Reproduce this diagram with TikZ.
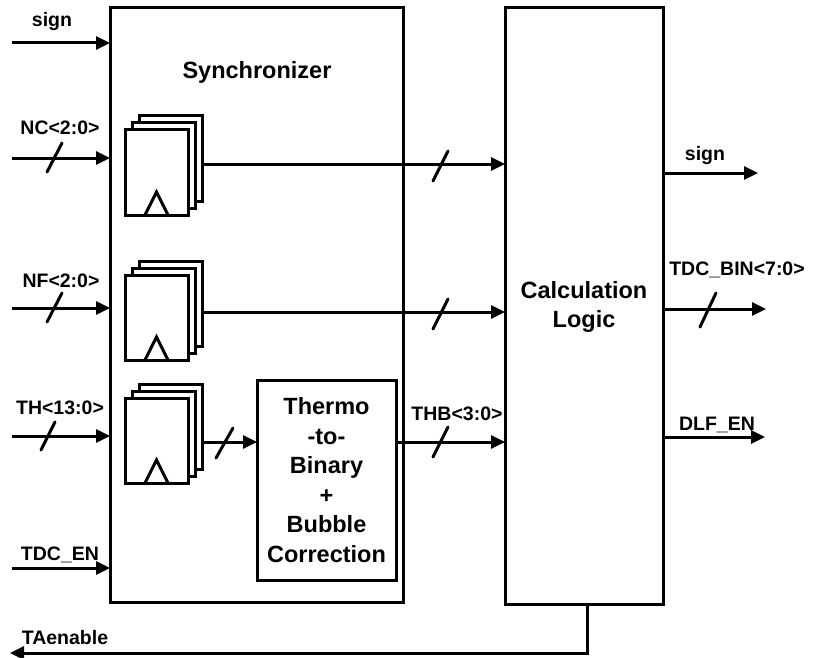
\documentclass[tikz,border=0pt]{standalone}
\usepackage{fontspec}
\setmainfont{Liberation Sans}
\usetikzlibrary{arrows.meta,calc}
\newcommand{\ffstk}[3]{%
  \node[ffrect] (#1c) at (#2+14,#3-14) {};
  \node[ffrect] (#1b) at (#2+7,#3-7) {};
  \node[ffrect] (#1) at (#2,#3) {};
  \draw[line join=miter] ($(#1.south)+(-11.5,0)$) -- ($(#1.south)+(0,-23)$) -- ($(#1.south)+(11.5,0)$);
}
\begin{document}
\begin{tikzpicture}[x=1pt,y=-1pt, line width=3pt,
  arr/.style={-{Triangle[length=14pt,width=13pt]}},
  lbl/.style={font=\fontsize{19.5}{22}\selectfont\bfseries, inner sep=0pt, text height=14pt, text depth=0pt},
  big/.style={font=\fontsize{23.5}{29.5}\selectfont\bfseries, align=center, inner sep=0pt},
  box/.style={draw, fill=white, anchor=north west, inner sep=0pt, outer sep=0pt},
  ffrect/.style={box, minimum width=63pt, minimum height=85pt},
  slashln/.style={line cap=round}]
\useasboundingbox (0,0) rectangle (816,658);

% main blocks
\node[box, minimum width=293pt, minimum height=594pt] (sync) at (110,8) {};
\node[box, minimum width=158pt, minimum height=596pt] (calc) at (505,8) {};
\node[box, minimum width=139pt, minimum height=200pt] (t2b) at (257,380) {};

\node[big] (synclbl) at (257,72) {Synchronizer};
\node[big] (calclbl) at (584,307) {Calculation\\Logic};
\node[big] (t2blbl) at (326.5,480) {Thermo\\-to-\\Binary\\+\\Bubble\\Correction};

% flip-flop stacks
\ffstk{ffnc}{125}{130}
\ffstk{ffnf}{125}{275}
\ffstk{ffth}{125}{398}

% inputs
\coordinate (signin) at (12,43);
\coordinate (ncin) at (12,158);
\coordinate (nfin) at (12,308);
\coordinate (thin) at (12,436);
\coordinate (enin) at (12,568);
\draw[arr] (signin) -- (sync.west |- signin);
\draw[arr] (ncin) -- (sync.west |- ncin);
\draw[arr] (nfin) -- (sync.west |- nfin);
\draw[arr] (thin) -- (sync.west |- thin);
\draw[arr] (enin) -- (sync.west |- enin);
\draw[slashln] (47,172) -- (62,143);
\draw[slashln] (47,322) -- (62,293);
\draw[slashln] (41,450) -- (55,422);

\node[lbl] (signl) at (52,20) {sign};
\node[lbl] (ncl) at (60,128) {NC<2:0>};
\node[lbl] (nfl) at (61,280) {NF<2:0>};
\node[lbl] (thl) at (60,407) {TH<13:0>};
\node[lbl] (enl) at (60,553) {TDC\_EN};

% internal connections
\draw[arr] (ffncc.east |- 0,164) -- (calc.west |- 0,164);
\draw[slashln] (433,181) -- (448,151);
\draw[arr] (ffnfc.east |- 0,312) -- (calc.west |- 0,312);
\draw[slashln] (433,329) -- (448,299);
\draw[arr] (ffthc.east |- 0,442) -- (t2b.west |- 0,442);
\draw[slashln] (216,458) -- (233,428);
\draw[arr] (t2b.east |- 0,442) -- (calc.west |- 0,442);
\draw[slashln] (433,457) -- (448,427);
\node[lbl] (thbl) at (457,413) {THB<3:0>};

% outputs
\coordinate (signout) at (758,173);
\coordinate (binout) at (766,309);
\coordinate (dlfout) at (765,437);
\draw[arr] (calc.east |- signout) -- (signout);
\draw[arr] (calc.east |- binout) -- (binout);
\draw[arr] (calc.east |- dlfout) -- (dlfout);
\draw[slashln] (700,327) -- (716,293);
\node[lbl] (signol) at (705,153) {sign};
\node[lbl] (binl) at (737,268) {TDC\_BIN<7:0>};
\node[lbl] (dlfl) at (717,423) {DLF\_EN};

% feedback
\coordinate (fbc) at (587,653);
\coordinate (taout) at (10,653);
\draw[arr] (calc.south -| fbc) -- (fbc) -- (taout);
\node[lbl] (tal) at (65,637) {TAenable};
\end{tikzpicture}
\end{document}
